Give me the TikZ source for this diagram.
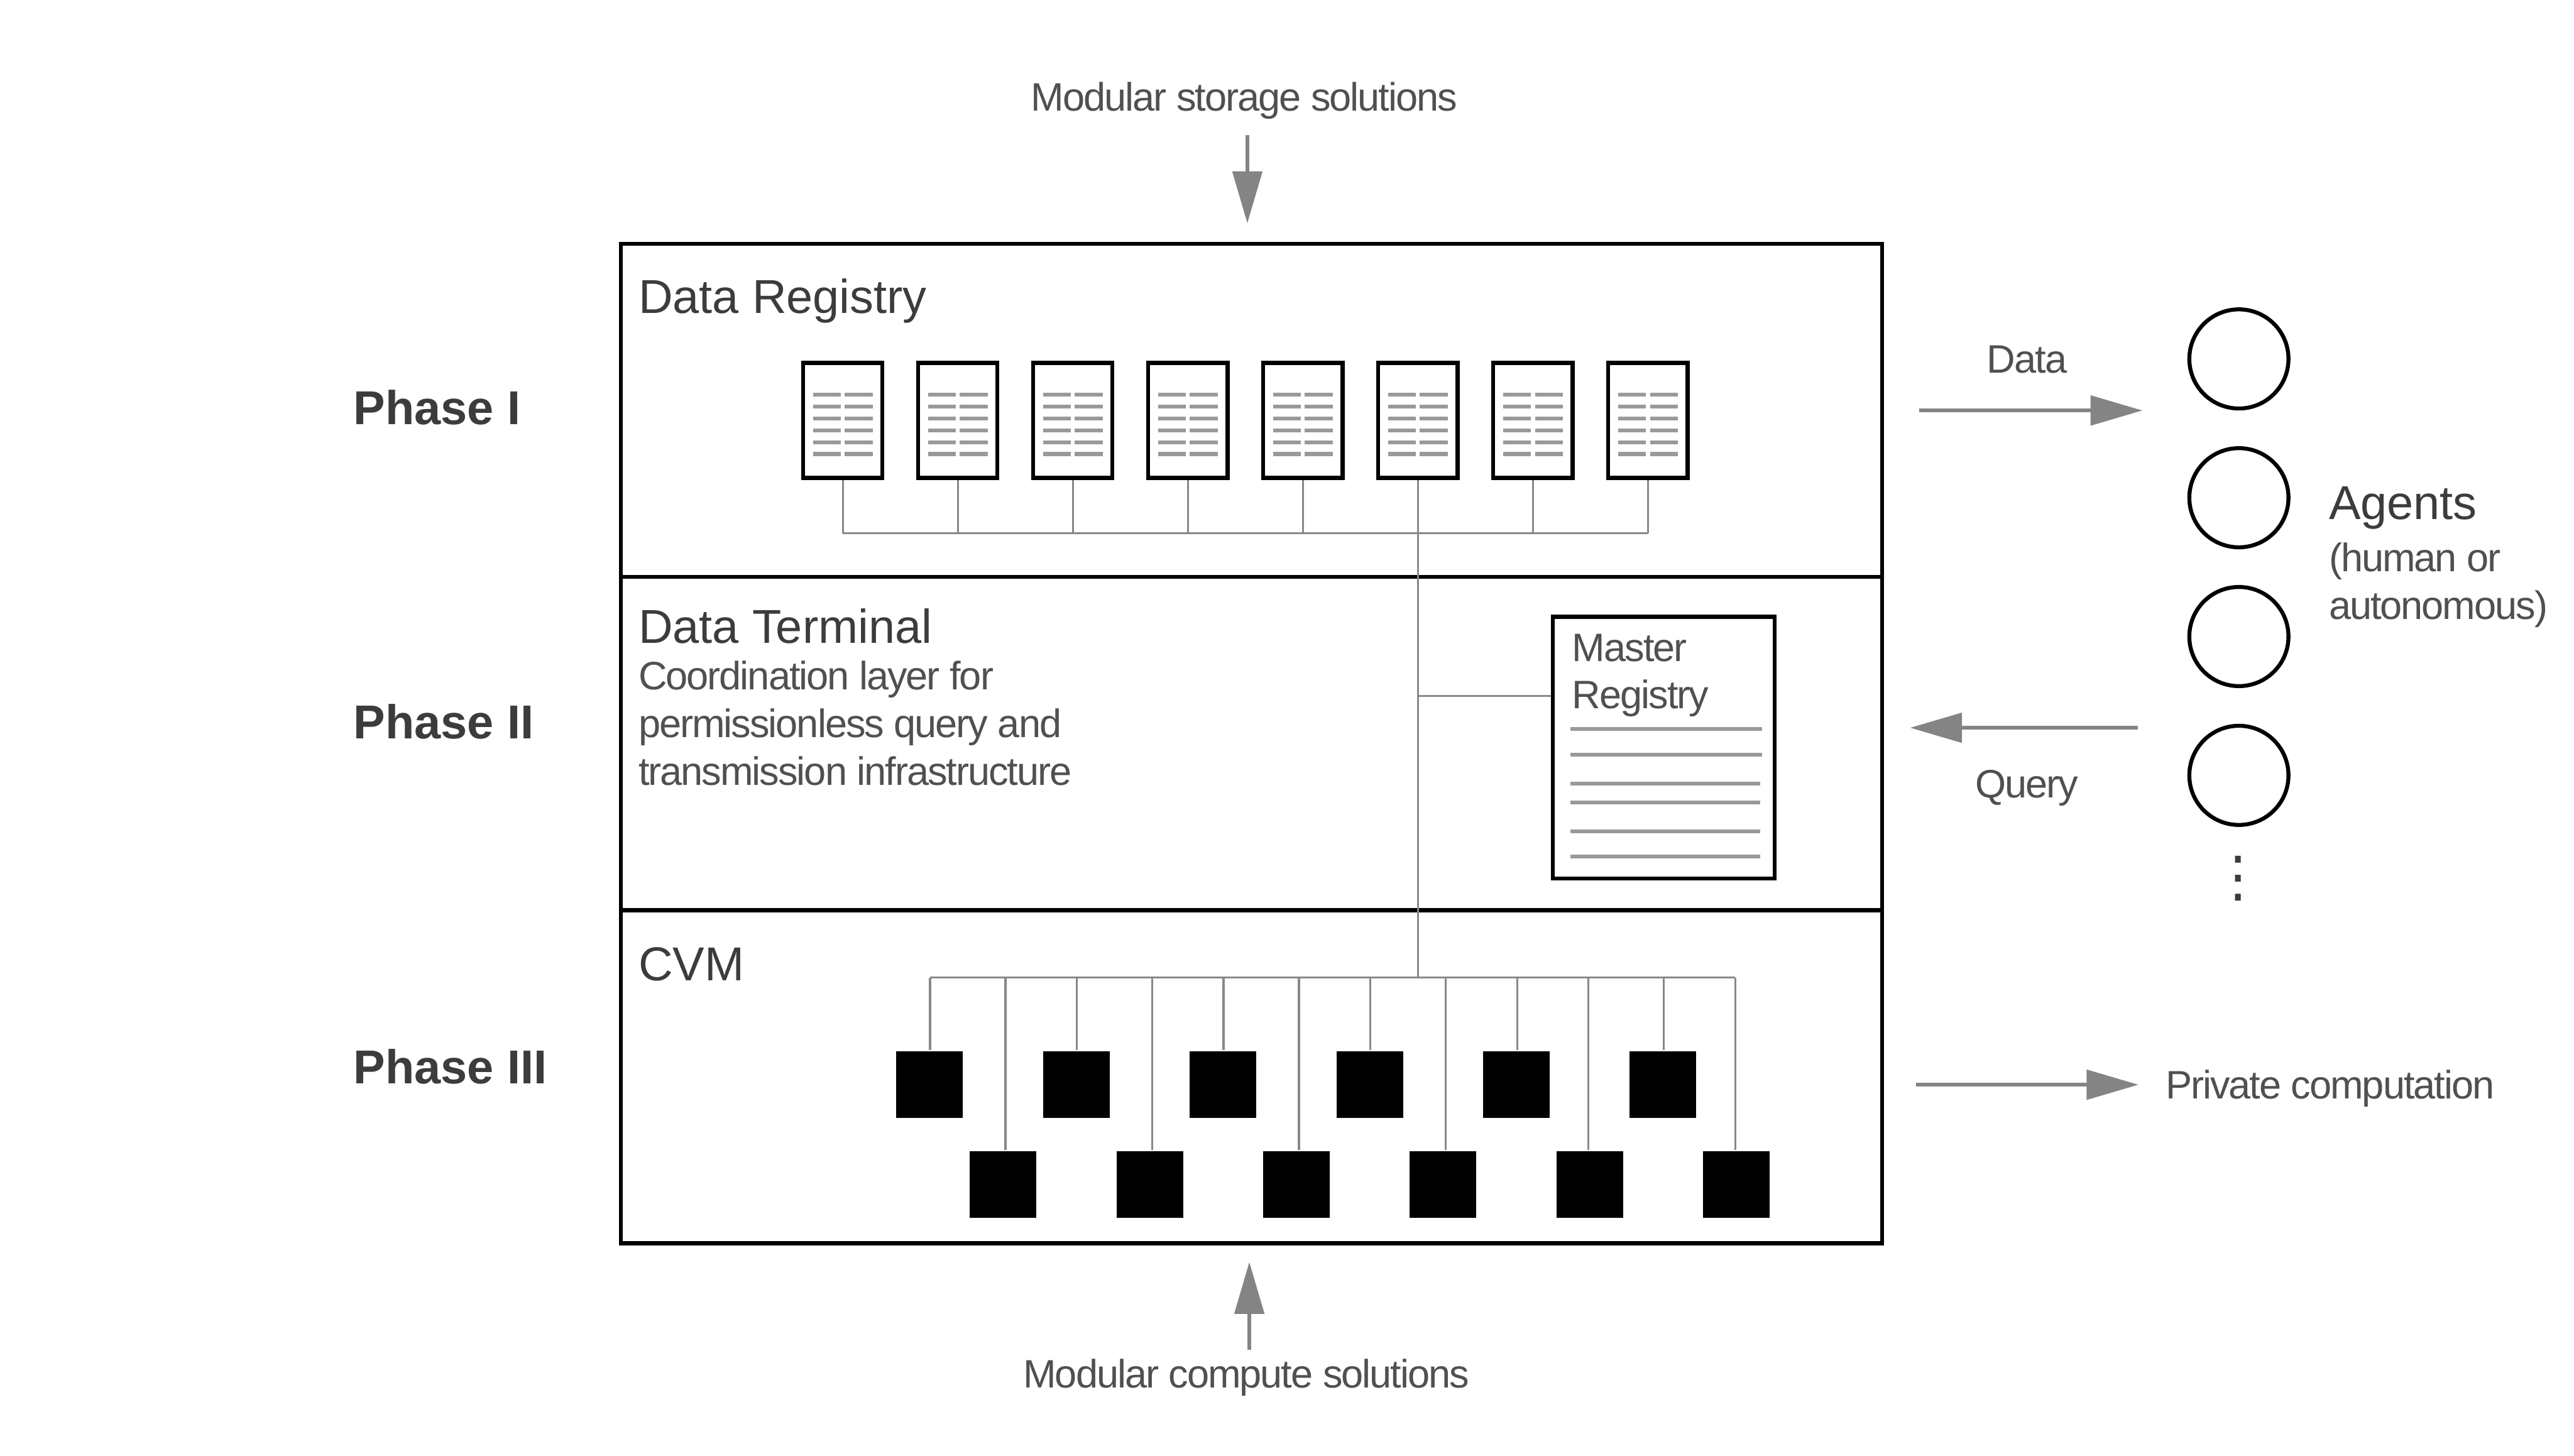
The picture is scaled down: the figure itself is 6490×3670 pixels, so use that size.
\documentclass[tikz,border=0pt]{standalone}
\usepackage{fontspec}
\usetikzlibrary{arrows.meta}
\setmainfont{Liberation Sans}
\newfontfamily\lightfont{Liberation Sans}[LetterSpace=-3.2]
\newfontfamily\dvfont{DejaVu Sans}
\definecolor{ink}{HTML}{3C3C3C}
\definecolor{lightink}{HTML}{505050}
\definecolor{wirecol}{HTML}{888888}
\definecolor{flowcol}{HTML}{848484}
\definecolor{rulecol}{HTML}{999999}
\tikzset{
  rowbox/.style={draw=black,line width=1pt,rectangle,minimum width=318pt,minimum height=84pt,inner sep=0},
  docbox/.style={draw=black,line width=1pt,fill=white,rectangle,minimum width=20pt,minimum height=29pt,inner sep=0},
  masterbox/.style={draw=black,line width=1pt,fill=white,rectangle,minimum width=56pt,minimum height=66pt,inner sep=0},
  cvmnode/.style={fill=black,rectangle,minimum width=16.8pt,minimum height=16.8pt,inner sep=0},
  agent/.style={draw=black,line width=1pt,circle,minimum size=25pt,inner sep=0},
  wire/.style={draw=wirecol,line width=.5pt},
  rulerow/.style={draw=rulecol,line width=1pt},
  flow/.style={draw=flowcol,fill=flowcol,line width=1pt,-{Triangle[length=13.1pt,width=7.4pt]}},
  title/.style={anchor=base west,inner sep=0,text=ink,font=\fontsize{12}{14}\selectfont},
  light/.style={anchor=base west,inner sep=0,text=lightink,font=\lightfont\fontsize{10}{12}\selectfont},
  phase/.style={anchor=base west,inner sep=0,text=ink,font=\bfseries\fontsize{12}{14}\selectfont},
}
\begin{document}
\begin{tikzpicture}[x=0.1pt,y=-0.1pt]
\useasboundingbox (0,0) rectangle (6490,3670);
% rows
\node[rowbox] (registry) at (3155,1035) {};
\node[rowbox] (terminal) at (3155,1875) {};
\node[rowbox] (cvm) at (3155,2715) {};
% titles
\node[title] (tregistry) at (1608,790) {Data Registry};
\node[title] (tterminal) at (1608,1622) {Data Terminal};
\node[title] (tcvm) at (1608,2473) {CVM};
\node[light,align=left] (tdesc) at (1608,1979) {Coordination layer for\\permissionless query and\\transmission infrastructure};
% phases
\node[phase] (p1) at (890,1070) {Phase I};
\node[phase] (p2) at (890,1862) {Phase II};
\node[phase] (p3) at (890,2733) {Phase III};
% docs
\foreach \i in {1,...,8}{
  \pgfmathsetmacro{\cx}{2125+290*(\i-1)}
  \node[docbox] (doc\i) at (\cx,1060) {};
  \foreach \ly in {995,1025,1055,1085,1115,1145}{
    \draw[rulerow] (\cx-75,\ly) -- (\cx-5,\ly);
    \draw[rulerow] (\cx+5,\ly) -- (\cx+75,\ly);
  }
  \coordinate (rb\i) at (\cx,1345);
}
\draw[wire] (rb1) -- (rb8);
\foreach \i in {1,...,8}{ \draw[wire] (doc\i.south) -- (rb\i); }
% master
\node[masterbox] (master) at (4195,1885) {};
\node[light,align=left] (tmaster) at (3962,1787) {Master\\Registry};
\draw[rulerow] (3960,1838) -- (4443,1838);
\draw[rulerow] (3960,1903) -- (4443,1903);
\draw[rulerow] (3960,1976) -- (4438,1976);
\draw[rulerow] (3960,2023) -- (4438,2023);
\draw[rulerow] (3960,2096) -- (4438,2096);
\draw[rulerow] (3960,2160) -- (4438,2160);
% cvm nodes
\coordinate (cb) at (3575,2465);
\foreach \i/\sx in {1/2345,2/2715,3/3085,4/3455,5/3825,6/4195}{
  \pgfmathsetmacro{\nx}{2344+369.8*(\i-1)}
  \node[cvmnode] (st\i) at (\nx,2734) {};
  \coordinate (tb\i) at (\sx,2465);
  \draw[wire] (tb\i) -- (tb\i |- st\i.north);
}
\foreach \i/\sx in {1/2535,2/2905,3/3275,4/3645,5/4005,6/4375}{
  \pgfmathsetmacro{\nx}{2529+369.8*(\i-1)}
  \node[cvmnode] (sb\i) at (\nx,2986) {};
  \coordinate (bb\i) at (\sx,2465);
  \draw[wire] (bb\i) -- (bb\i |- sb\i.north);
}
\draw[wire] (tb1) -- (bb6);
% trunk
\coordinate (mj) at (3575,1755);
\draw[wire] (doc6.south) -- (cb);
\draw[wire] (mj) -- (mj -| master.west);
% agents
\node[agent] (a1) at (5645,905) {};
\node[agent] (a2) at (5645,1255) {};
\node[agent] (a3) at (5645,1605) {};
\node[agent] (a4) at (5645,1955) {};
\node[inner sep=0,text=ink,font=\dvfont\fontsize{14}{14}\selectfont] (vd) at (5643,2215) {⋮};
\node[title] (tagents) at (5870,1310) {Agents};
\node[light,align=left] (tagentsub) at (5870,1561) {(human or\\autonomous)};
% flows
\coordinate (f1a) at (4839,1035); \coordinate (f1b) at (5402,1035);
\coordinate (f2a) at (5390,1835); \coordinate (f2b) at (4816,1835);
\coordinate (f3a) at (4831,2735); \coordinate (f3b) at (5392,2735);
\coordinate (f4a) at (3145,340); \coordinate (f4b) at (3145,563);
\coordinate (f5a) at (3150,3404); \coordinate (f5b) at (3150,3182);
\draw[flow] (f1a) -- (f1b);
\draw[flow] (f2a) -- (f2b);
\draw[flow] (f3a) -- (f3b);
\draw[flow] (f4a) -- (f4b);
\draw[flow] (f5a) -- (f5b);
\node[light] (tdata) at (5008,940) {Data};
\node[light] (tquery) at (4979,2011) {Query};
\node[light] (tpriv) at (5458,2770) {Private computation};
\node[light] (ttop) at (2598,279) {Modular storage solutions};
\node[light] (tbot) at (2578,3499) {Modular compute solutions};
\end{tikzpicture}
\end{document}
